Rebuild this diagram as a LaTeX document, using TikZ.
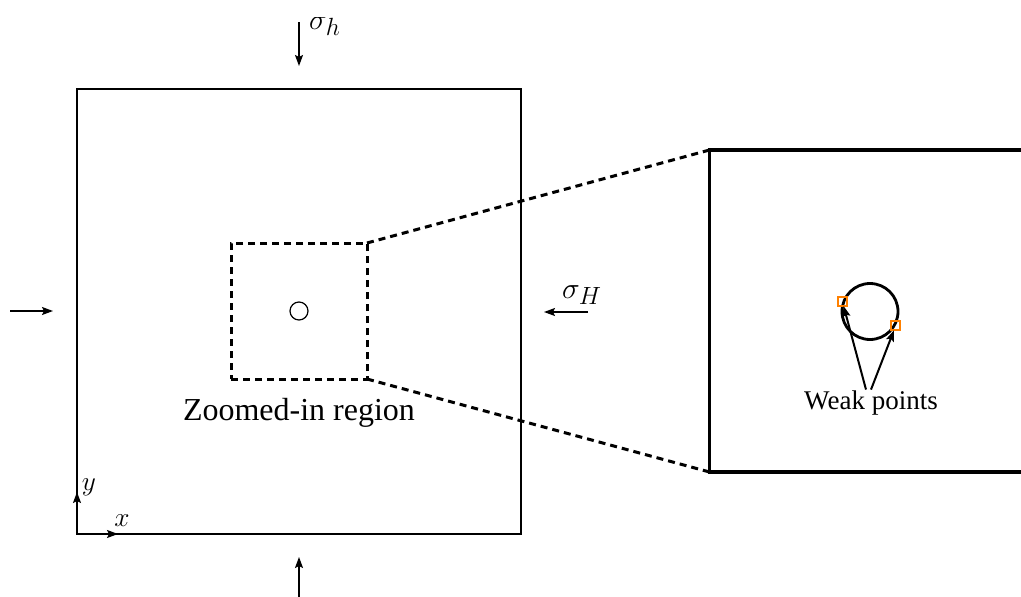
\documentclass[tikz,border=0pt]{standalone}
\usepackage{fontspec}
\setmainfont{Liberation Serif}
\usetikzlibrary{arrows.meta}
\begin{document}
\begin{tikzpicture}[x=1pt,y=-1pt,
  thinline/.style={line width=1.2pt},
  load/.style={line width=1.6pt,-{Stealth[length=11pt,width=8pt,inset=2pt]}},
  weakarrow/.style={line width=2pt,-{Stealth[length=11pt,width=8pt,inset=2pt]}},
  dashline/.style={line width=3pt,dash pattern=on 7pt off 5pt},
  boxnode/.style={draw,inner sep=0pt,outer sep=0pt},
  weak/.style={draw=orange,line width=2.4pt,minimum size=9pt,inner sep=0pt,outer sep=0pt},
  mathlbl/.style={inner sep=0pt,font=\fontsize{24.88}{30}\selectfont},
  axlbl/.style={inner sep=0pt,font=\fontsize{24.88}{30}\selectfont}]
\useasboundingbox (0,0) rectangle (1021,597);
\clip (0,0) rectangle (1021,597);
% plate
\node[boxnode,thinline,minimum width=444pt,minimum height=445pt] (plate) at (299,311.5) {};
% zoom window
\node[boxnode,dashline,minimum size=136pt] (zoomwin) at (299,311) {};
\node[draw,circle,thinline,minimum size=18pt,inner sep=0pt] (hole) at (299,311) {};
% detail box
\node[boxnode,line width=3.2pt,minimum width=322pt,minimum height=322pt] (detail) at (870.5,311) {};
\draw[dashline] (zoomwin.north east) -- (detail.north west);
\draw[dashline] (zoomwin.south east) -- (detail.south west);
% big hole
\node[draw,circle,line width=2.8pt,minimum size=56pt,inner sep=0pt] (bighole) at (870,311.5) {};
\node[weak] (w1) at (bighole.160) {};
\node[weak] (w2) at (bighole.-29) {};
% labels
\node[inner sep=1pt,font=\fontsize{27}{31}\selectfont] (wp) at (871,403) {Weak points};
\draw[weakarrow] ([xshift=-5pt]wp.north) -- (w1);
\draw[weakarrow] ([xshift=0pt]wp.north) -- (w2);
\node[inner sep=1pt,font=\fontsize{32}{36}\selectfont] (zl) at (299,413) {Zoomed-in region};
% loads
\coordinate (tS) at (299,22); \coordinate (tE) at (299,66);
\draw[load] (tS) -- (tE);
\begin{scope}
\clip (300,17) rectangle (400,60);
\node[mathlbl,anchor=base west] (sh) at (309,29) {\scalebox{1.2}{$\sigma_h$}};
\end{scope}
\coordinate (bS) at (299,605); \coordinate (bE) at (299,557);
\draw[load] (bS) -- (bE);
\coordinate (lS) at (10,311); \coordinate (lE) at (53,311);
\draw[load] (lS) -- (lE);
\coordinate (rS) at (588,312); \coordinate (rE) at (544,312);
\draw[load] (rS) -- (rE);
\node[mathlbl,anchor=base west] (sH) at (562,298) {\scalebox{1.2}{$\sigma_H$}};
% axes
\coordinate (yE) at (77,492); \coordinate (xE) at (118,534);
\draw[load] (plate.south west) -- (yE);
\draw[load] (plate.south west) -- (xE);
\node[axlbl] (ylbl) at (89,487) {\scalebox{1.1}{$y$}};
\node[axlbl] (xlbl) at (122,521) {\scalebox{1.1}{$x$}};
\end{tikzpicture}
\end{document}
